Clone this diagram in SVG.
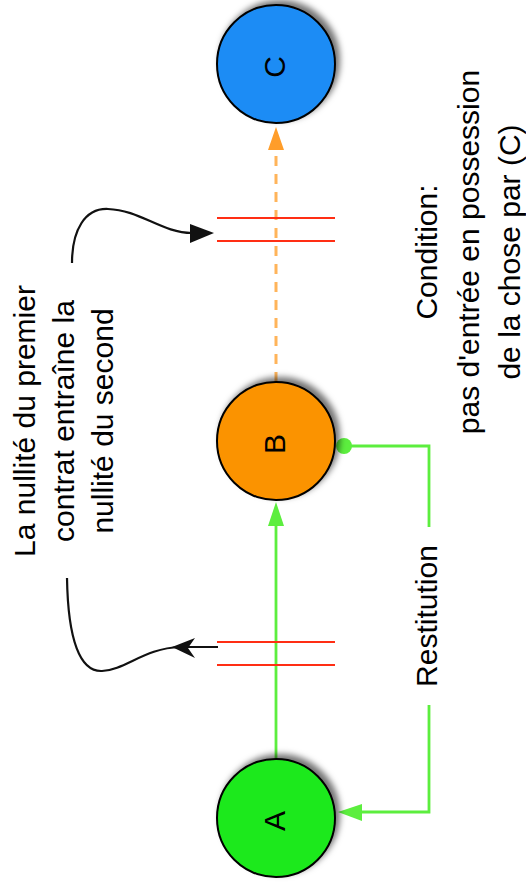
<svg xmlns="http://www.w3.org/2000/svg" width="526" height="883" viewBox="0 0 526 883">
<style>
.node{stroke:#000;stroke-width:2;filter:url(#sh)}
.lbl{font-family:"Liberation Sans",Arial,sans-serif;font-size:30px;fill:#000;text-anchor:middle}
.txt{font-family:"Liberation Sans",Arial,sans-serif;font-size:30px;fill:#000;text-anchor:middle}
.red{stroke:#ff2e14;stroke-width:1.8;fill:none}
.grn{stroke:#5cee3e;stroke-width:2.8;fill:none}
.blk{stroke:#111;stroke-width:2.2;fill:none}
</style>
<defs>
<filter id="sh" x="-30%" y="-30%" width="160%" height="160%">
<feGaussianBlur in="SourceAlpha" stdDeviation="3"/>
<feOffset dx="4" dy="-4" result="b"/>
<feFlood flood-color="#000" flood-opacity="0.55"/>
<feComposite in2="b" operator="in"/>
<feMerge><feMergeNode/><feMergeNode in="SourceGraphic"/></feMerge>
</filter>
</defs>
<rect width="526" height="883" fill="#fff"/>
<g id="connectors">
<path d="M276,758 V522" class="grn"/>
<polygon points="276,502 268,526 284,526" fill="#5cee3e"/>
<path d="M276,382 V146" stroke="#ffb45a" stroke-width="3" stroke-dasharray="10,8" fill="none"/>
<polygon points="276,127 268,150 284,150" fill="#ff9d2a"/>
<path d="M344,446 H429 V527 M429,705 V812 H360" class="grn"/>
<circle cx="344" cy="446" r="8" fill="#5cee3e"/>
<polygon points="338,812 362,804 362,821" fill="#5cee3e"/>
<path d="M217,218 H335 M217,241 H335 M217,642 H335 M217,665 H335" class="red"/>
<path d="M72,263 C72,230 85,208 108,209 C140,210 162,233 192,233" class="blk"/>
<polygon points="214,233 190,224 190,243" fill="#111"/>
<path d="M67,578 C68,640 80,672 102,671 C125,670 145,648 180,647 H218" class="blk"/>
<polygon points="172,647 195,638 188,648 195,658" fill="#111"/>
</g>
<g id="C">
<circle cx="276" cy="64" r="59" fill="#1b8cf5" class="node"/>
<text class="lbl" transform="translate(274,67) rotate(-90)" y="10.7">C</text>
</g>
<g id="B">
<circle cx="276" cy="441" r="59" fill="#fb9300" class="node"/>
<text class="lbl" transform="translate(274,444) rotate(-90)" y="10.7">B</text>
</g>
<g id="A">
<circle cx="276" cy="818" r="59" fill="#1fe91f" class="node"/>
<text class="lbl" transform="translate(274,821) rotate(-90)" y="10.7">A</text>
</g>
<g id="note">
<text class="txt" transform="translate(0,421) rotate(-90)"><tspan x="0" y="35">La nullité du premier</tspan><tspan x="0" y="74">contrat entraîne la</tspan><tspan x="0" y="113">nullité du second</tspan></text>
</g>
<g id="condition">
<text class="txt" transform="translate(0,252) rotate(-90)"><tspan x="0" y="437">Condition:</tspan><tspan x="0" y="479">pas d'entrée en possession</tspan><tspan x="0" y="520">de la chose par (C)</tspan></text>
</g>
<g id="restitution">
<text class="txt" transform="translate(0,616) rotate(-90)" x="0" y="437">Restitution</text>
</g>
</svg>
